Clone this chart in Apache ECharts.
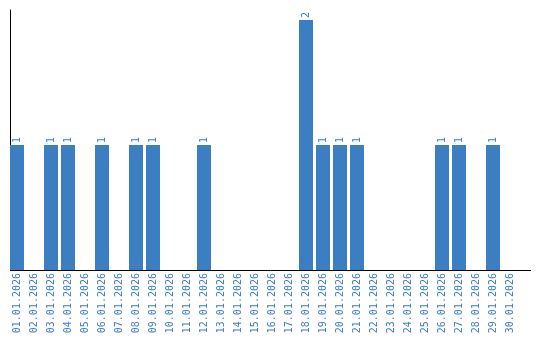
<!DOCTYPE html>
<html><head><meta charset="utf-8">
<script src="https://cdn.jsdelivr.net/npm/echarts@6/dist/echarts.min.js"></script>
<style>html,body{margin:0;padding:0;background:#fff}#c{width:540px;height:340px}</style>
</head><body><div id="c"></div>
<script>
const categories = ["01.01.2026","02.01.2026","03.01.2026","04.01.2026","05.01.2026","06.01.2026","07.01.2026","08.01.2026","09.01.2026","10.01.2026","11.01.2026","12.01.2026","13.01.2026","14.01.2026","15.01.2026","16.01.2026","17.01.2026","18.01.2026","19.01.2026","20.01.2026","21.01.2026","22.01.2026","23.01.2026","24.01.2026","25.01.2026","26.01.2026","27.01.2026","28.01.2026","29.01.2026","30.01.2026"];
const values = [1,0,1,1,0,1,0,1,1,0,0,1,0,0,0,0,0,2,1,1,1,0,0,0,0,1,1,0,1,0];
const color = '#3b7ec2';
const chart = echarts.init(document.getElementById('c'));
chart.setOption({
  animation:false,
  grid:{left:8.5,right:21.5,top:10,bottom:70},
  graphic:[{type:'line',shape:{x1:10,y1:270.5,x2:531,y2:270.5},style:{stroke:'#000',lineWidth:1},z:100}],
  xAxis:{type:'category',data:categories,
    axisLine:{show:false},axisTick:{show:false},
    axisLabel:{rotate:90,interval:0,color:color,fontFamily:'DejaVu Sans Mono',fontSize:10,margin:3}},
  yAxis:{type:'value',min:0,max:2.08,offset:-2,
    axisLine:{show:true,lineStyle:{color:'#000',width:1}},
    axisTick:{show:false},axisLabel:{show:false},splitLine:{show:false}},
  series:[{type:'bar',data:values.map(v=>v===0?null:v),barWidth:14,
    itemStyle:{color:color},
    label:{show:true,position:'top',rotate:90,align:'left',verticalAlign:'middle',distance:2,
      color:color,fontFamily:'DejaVu Sans Mono',fontSize:10}}]
});
</script></body></html>
